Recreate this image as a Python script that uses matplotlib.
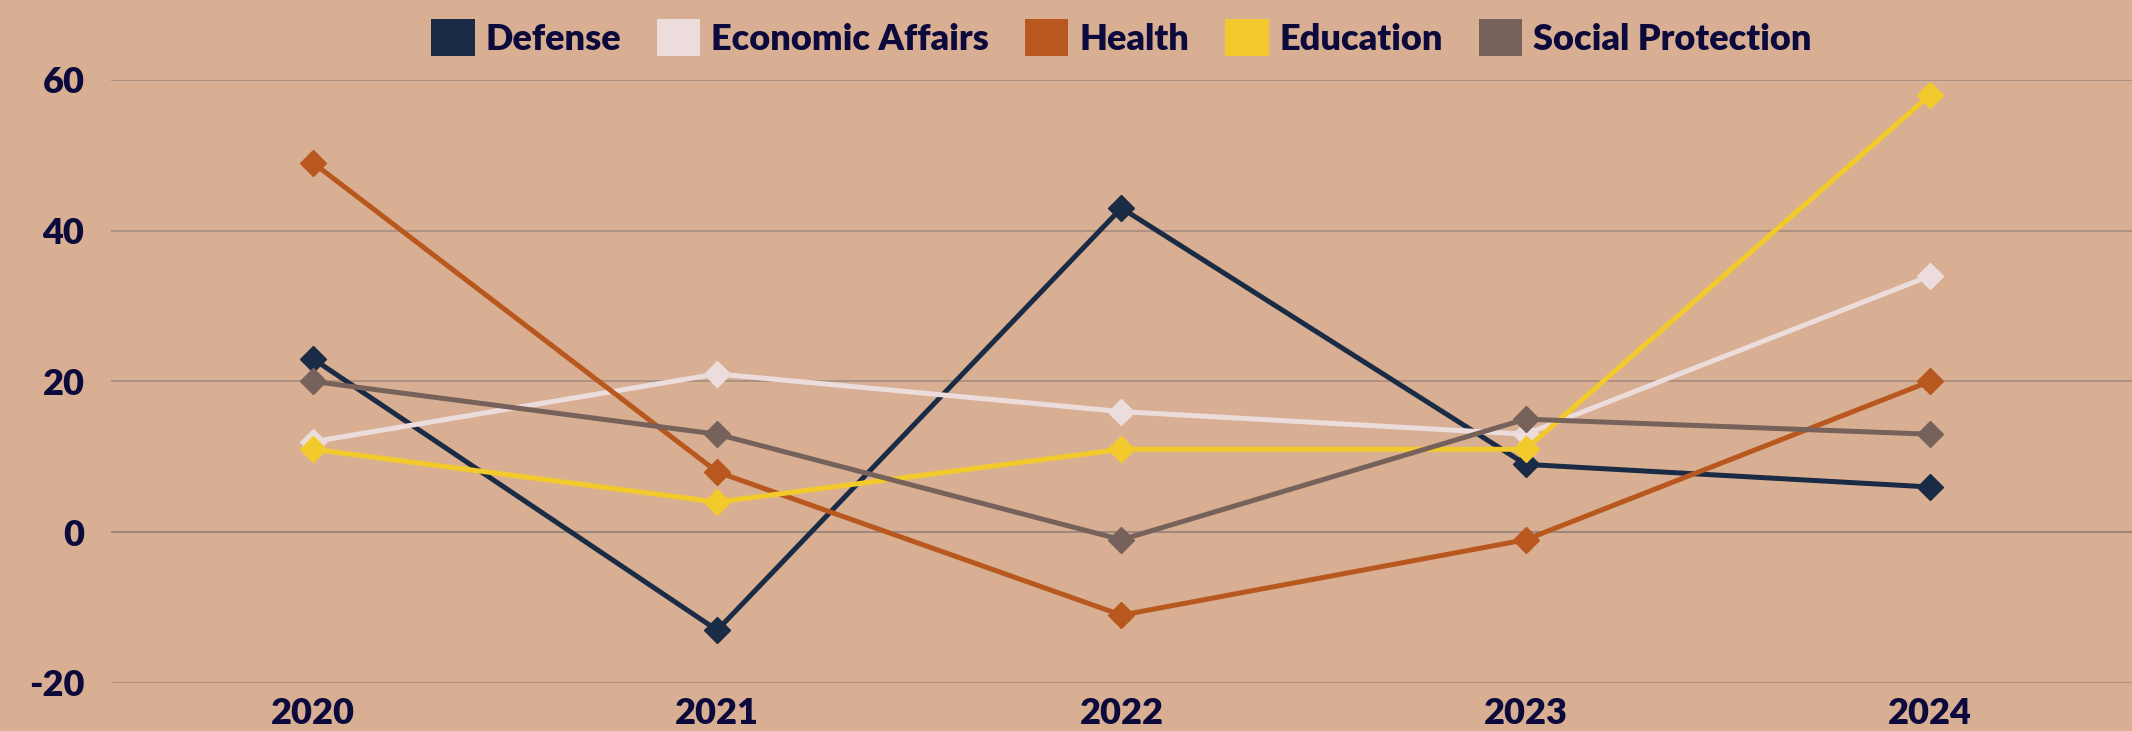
import matplotlib.pyplot as plt
from matplotlib.patches import Patch

years = ["2020", "2021", "2022", "2023", "2024"]
defense = [23, -13, 43, 9, 6]
economic = [12, 21, 16, 13, 34]
health = [49, 8, -11, -1, 20]
education = [11, 4, 11, 11, 58]
social = [20, 13, -1, 15, 13]

series = [
    ("Defense", defense, "#1a2b45"),
    ("Economic Affairs", economic, "#ecdcdc"),
    ("Health", health, "#b8581e"),
    ("Education", education, "#f2ca2c"),
    ("Social Protection", social, "#76625a"),
]

bg = "#d8af92"
txt = "#0c0a3c"
plt.rcParams['font.family'] = ['Lato', 'DejaVu Sans']
plt.rcParams['axes.unicode_minus'] = False

fig = plt.figure(figsize=(21.32, 7.31), dpi=100, facecolor=bg)
ax = fig.add_axes([0.052, 0.0657, 0.948, 0.825])
ax.set_facecolor(bg)

x = range(len(years))
for name, vals, col in series:
    ax.plot(x, vals, color=col, lw=3.6, marker="D", markersize=13, zorder=3)

ax.set_xlim(-0.5, len(years) - 0.5)
ax.set_ylim(-20, 60)
ax.set_yticks([-20, 0, 20, 40, 60])
ax.set_xticks(list(x))
ax.set_xticklabels(years)
ax.grid(axis="y", color="#a58b80", lw=1.2, zorder=1)
ax.axhline(0, color="#8f7b78", lw=1.5, zorder=1)
for s in ax.spines.values():
    s.set_visible(False)
ax.tick_params(length=0, colors=txt, labelsize=26)
ax.tick_params(axis="y", pad=19)
ax.tick_params(axis="x", pad=10)
for lab in ax.get_xticklabels() + ax.get_yticklabels():
    lab.set_fontweight("heavy")

handles = [Patch(facecolor=c, edgecolor="none", label=n) for n, v, c in series]
leg = ax.legend(handles=handles, loc="center", bbox_to_anchor=(0.5, 1.07),
                ncol=5, frameon=False, fontsize=26, handlelength=1.2,
                handleheight=1.2, handletextpad=0.3, columnspacing=1.0)
for t in leg.get_texts():
    t.set_color(txt)
    t.set_fontweight("heavy")

fig.savefig("out.png", dpi=100, facecolor=bg)
